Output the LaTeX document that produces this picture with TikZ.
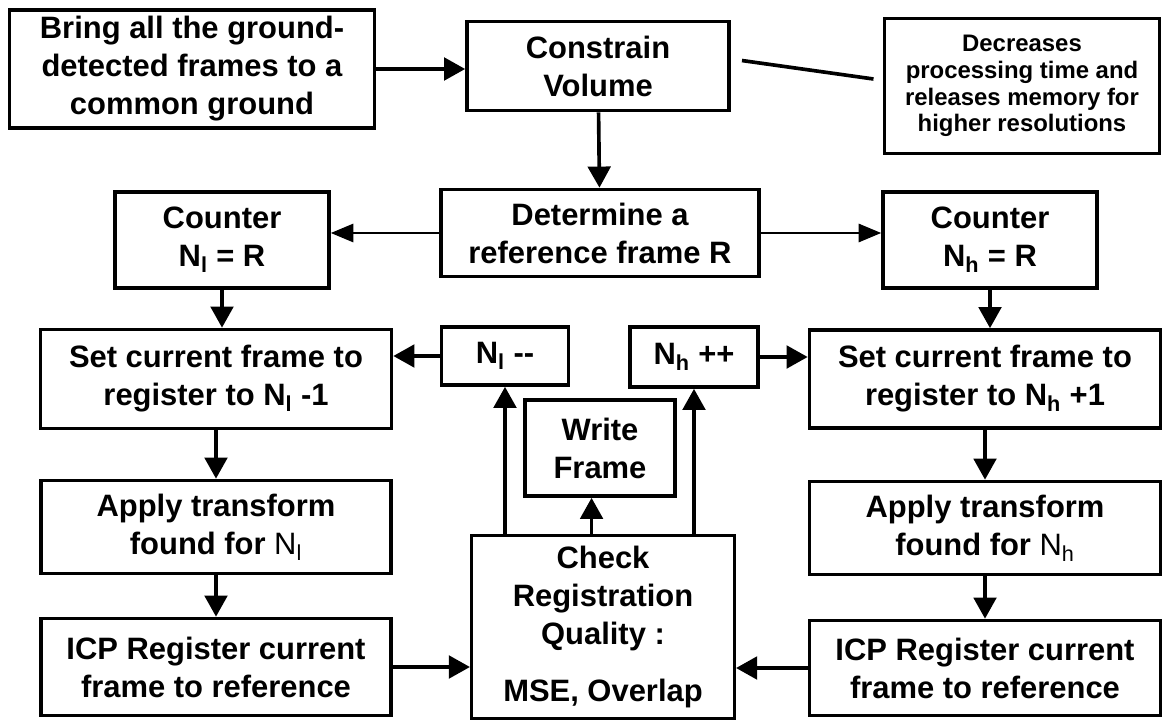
\documentclass[tikz,border=0pt]{standalone}
\usepackage{fontspec}
\setmainfont{Liberation Sans}
\usetikzlibrary{arrows.meta}

\tikzset{
  box/.style={draw, line width=2.6pt, align=center, inner sep=0pt,
    font=\bfseries\fontsize{22}{27}\selectfont},
  size/.style 2 args={minimum width=#1*0.025cm, minimum height=#2*0.025cm},
  arr/.style={-{Triangle[length=15pt,width=16pt]}, line width=2.6pt},
  thinarr/.style={-{Triangle[length=16pt,width=13pt]}, line width=1.4pt},
}

\begin{document}
\begin{tikzpicture}[x=0.025cm, y=-0.025cm]
\useasboundingbox (0,0) rectangle (1163,721);

% top row
\node[box, size={365}{118}] (bring) at (192,69) {Bring all the ground-\\detected frames to a\\common ground};
\node[box, size={262}{89}] (constrain) at (598,66) {Constrain\\Volume};
\node[box, line width=1.8pt, size={275}{135},
  font=\bfseries\fontsize{17}{19}\selectfont] (note) at (1022,86) {Decreases\\processing time and\\releases memory for\\higher resolutions};
\draw[arr] (bring.east) -- (bring.east -| constrain.west);
\draw[line width=2.6pt, shorten <=8pt, shorten >=7pt] ([yshift=5pt]constrain.east) -- ([yshift=4pt]note.west);

% reference frame and counters
\node[box, size={318}{87}] (determine) at (600,233) {Determine a\\reference frame R};
\draw[arr] (constrain) -- (determine);
\node[box, size={214}{96}] (counterl) at (222,240) {Counter\\N\textsubscript{l} = R};
\node[box, size={214}{96}] (counterh) at (990,240) {Counter\\N\textsubscript{h} = R};
\draw[thinarr] (determine.west) -- (determine.west -| counterl.east);
\draw[thinarr] (determine.east) -- (determine.east -| counterh.west);

% left branch
\node[box, size={351}{99}] (setl) at (216,379) {Set current frame to\\register to N\textsubscript{l} -1};
\node[box, size={350}{93}] (applyl) at (216,527) {Apply transform\\found for {\mdseries N\textsubscript{l}}};
\node[box, size={350}{97}] (icpl) at (216,667) {ICP Register current\\frame to reference};
\draw[arr] (counterl.south) -- (counterl.south |- setl.north);
\draw[arr] (setl) -- (applyl);
\draw[arr] (applyl) -- (icpl);

% right branch
\node[box, size={351}{98}] (seth) at (985,379) {Set current frame to\\register to N\textsubscript{h} +1};
\node[box, size={351}{93}] (applyh) at (985,528) {Apply transform\\found for {\mdseries N\textsubscript{h}}};
\node[box, size={351}{95}] (icph) at (985,668) {ICP Register current\\frame to reference};
\draw[arr] (counterh.south) -- (counterh.south |- seth.north);
\draw[arr] (seth) -- (applyh);
\draw[arr] (applyh) -- (icph);

% quality check in the middle
\node[box, line width=2.2pt, size={263}{183}] (check) at (603,627) {Check\\Registration\\Quality :\\[13pt]MSE, Overlap};
\node[box, size={150}{96}] (write) at (600,448) {Write\\Frame};
\node[box, size={127}{58}] (decl) at (505,356) {N\textsubscript{l} -{}-};
\node[box, size={128}{60}] (inch) at (694,357) {N\textsubscript{h} ++};
\draw[arr] (icpl.east) -- (icpl.east -| check.west);
\draw[arr] (icph.west) -- (icph.west -| check.east);
\draw[arr] (check.north -| decl.south) -- (decl.south);
\draw[arr] (check.north -| inch.south) -- (inch.south);
\draw[arr] ([xshift=-6pt]check.north -| write.south) -- ([xshift=-6pt]write.south);
\draw[arr] (decl.west) -- (decl.west -| setl.east);
\draw[arr] (inch.east) -- (inch.east -| seth.west);

\end{tikzpicture}
\end{document}
